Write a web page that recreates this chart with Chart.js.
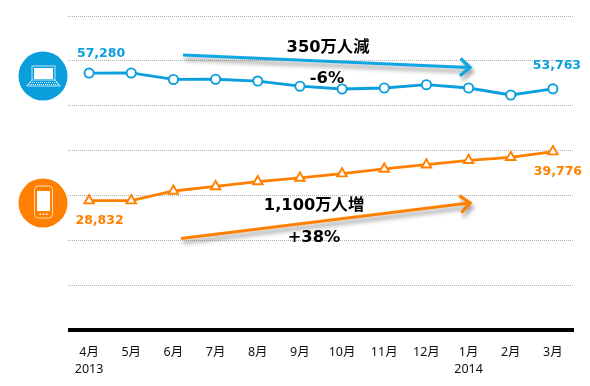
<!DOCTYPE html>
<html><head><meta charset="utf-8">
<style>html,body{margin:0;padding:0;background:#fff}#w{position:relative;width:590px;height:386px}</style>
<script src="https://cdn.jsdelivr.net/npm/chart.js@4"></script></head>
<body><div id="w"><canvas id="c" width="590" height="386"></canvas></div>
<script>
const months = ["4月","5月","6月","7月","8月","9月","10月","11月","12月","1月","2月","3月"];
const years = ["2013","","","","","","","","","2014","",""];
const pcValues = [57280,57300,55850,55900,55500,54350,53730,53950,54680,53950,52390,53763];
const phoneValues = [28832,28850,30990,32000,33100,33900,34850,35900,36850,37830,38500,39776];
const yTicks = [0,10000,20000,30000,40000,50000,60000,70000];
const BLUE = "#0a9fdc", ORANGE = "#ff8000";
const FONT = '"DejaVu Sans","Noto Sans CJK JP",sans-serif';
const TICKFONT = '"Noto Sans","Noto Sans CJK JP",sans-serif';

function arrow(ctx, x0, y0, x1, y1, color) {
  const a = Math.atan2(y1 - y0, x1 - x0), h = 13, s = 0.72;
  ctx.save();
  ctx.shadowColor = "rgba(60,60,60,0.5)"; ctx.shadowBlur = 4; ctx.shadowOffsetX = 2; ctx.shadowOffsetY = 4;
  ctx.strokeStyle = color; ctx.lineWidth = 3.2; ctx.lineJoin = "miter"; ctx.lineCap = "butt";
  ctx.beginPath(); ctx.moveTo(x0, y0); ctx.lineTo(x1 - 1, y1);
  ctx.moveTo(x1 - h * Math.cos(a - s), y1 - h * Math.sin(a - s));
  ctx.lineTo(x1, y1);
  ctx.lineTo(x1 - h * Math.cos(a + s), y1 - h * Math.sin(a + s));
  ctx.stroke();
  ctx.restore();
}
function laptop(ctx, cx, cy) {
  ctx.save();
  ctx.fillStyle = BLUE; ctx.beginPath(); ctx.arc(cx, cy, 24.5, 0, 7); ctx.fill();
  ctx.strokeStyle = "#bfe5f6"; ctx.lineWidth = 1;
  ctx.strokeRect(cx - 11, cy - 10, 23, 14);
  ctx.fillStyle = "#fff"; ctx.fillRect(cx - 9, cy - 8, 19, 11);
  ctx.beginPath(); ctx.moveTo(cx - 11, cy + 4); ctx.lineTo(cx - 16.5, cy + 10); ctx.lineTo(cx + 17.5, cy + 10); ctx.lineTo(cx + 12, cy + 4); ctx.stroke();
  ctx.strokeStyle = "#e4f4fb"; ctx.lineWidth = 1; ctx.setLineDash([1, 1]);
  ctx.beginPath(); ctx.moveTo(cx - 13, cy + 6.5); ctx.lineTo(cx + 14, cy + 6.5); ctx.moveTo(cx - 14, cy + 8.5); ctx.lineTo(cx + 15, cy + 8.5); ctx.stroke();
  ctx.restore();
}
function phone(ctx, cx, cy) {
  ctx.save();
  ctx.fillStyle = ORANGE; ctx.beginPath(); ctx.arc(cx, cy, 24.5, 0, 7); ctx.fill();
  ctx.strokeStyle = "#ffd9b0"; ctx.lineWidth = 1;
  ctx.beginPath(); ctx.roundRect(cx - 8.5, cy - 17, 18, 32, 3.5); ctx.stroke();
  ctx.fillStyle = "#fff"; ctx.fillRect(cx - 6, cy - 12, 13, 20);
  ctx.fillRect(cx - 3.5, cy + 10.5, 1.5, 1.5); ctx.fillRect(cx - 0.2, cy + 10.5, 1.5, 1.5); ctx.fillRect(cx + 3, cy + 10.5, 1.5, 1.5);
  ctx.restore();
}
function txt(ctx, s, x, y, font, color) {
  ctx.font = font; ctx.fillStyle = color; ctx.textAlign = "center"; ctx.textBaseline = "middle"; ctx.fillText(s, x, y);
}
const overlay = {
  id: "overlay",
  afterDatasetsDraw(chart) {
    const ctx = chart.ctx, X = chart.scales.x, Y = chart.scales.y;
    ctx.fillStyle = "#000";
    ctx.fillRect(X.left, Y.getPixelForValue(0) - 2, X.width, 4);
    laptop(ctx, 43, 76);
    phone(ctx, 43, 203);
    const lab = 'bold 12.5px ' + FONT, last = months.length - 1;
    txt(ctx, pcValues[0].toLocaleString("en-US"), X.getPixelForValue(0) + 12, Y.getPixelForValue(pcValues[0]) - 19.5, lab, BLUE);
    txt(ctx, pcValues[last].toLocaleString("en-US"), X.getPixelForValue(last) + 4, Y.getPixelForValue(pcValues[last]) - 23.5, lab, BLUE);
    txt(ctx, phoneValues[0].toLocaleString("en-US"), X.getPixelForValue(0) + 10.5, Y.getPixelForValue(phoneValues[0]) + 20.5, lab, ORANGE);
    txt(ctx, phoneValues[last].toLocaleString("en-US"), X.getPixelForValue(last) + 5, Y.getPixelForValue(phoneValues[last]) + 20.5, lab, ORANGE);
    arrow(ctx, 183, 55, 470, 67.5, "#0fa6e4");
    arrow(ctx, 181, 238.5, 470, 203, ORANGE);
    const big = 'bold 16.3px ' + FONT;
    txt(ctx, "350万人減", 328, 47.5, big, "#000");
    txt(ctx, "-6%", 327, 78.5, big, "#000");
    txt(ctx, "1,100万人増", 314, 205.5, big, "#000");
    txt(ctx, "+38%", 314, 238, big, "#000");
  }
};
Chart.defaults.font.family = FONT;
new Chart(document.getElementById("c"), {
  type: "line",
  data: {
    labels: months.map((m, i) => years[i] ? [m, years[i]] : [m]),
    datasets: [
      { label: "PC", data: pcValues, borderColor: BLUE, borderWidth: 2.8, tension: 0,
        pointStyle: "circle", pointRadius: 4.6, pointBorderWidth: 1.9, pointBackgroundColor: "#fff", pointBorderColor: BLUE },
      { label: "Smartphone", data: phoneValues, borderColor: ORANGE, borderWidth: 2.8, tension: 0,
        pointStyle: "triangle", pointRadius: 5.5, pointBorderWidth: 1.9, pointBackgroundColor: "#fff", pointBorderColor: ORANGE }
    ]
  },
  options: {
    responsive: false, animation: false,
    layout: { padding: { left: 68, right: 16, top: 16, bottom: 0 } },
    plugins: { legend: { display: false }, tooltip: { enabled: false } },
    scales: {
      x: {
        offset: true,
        afterFit(s) { s.height = 56; },
        grid: { display: false, drawTicks: false },
        border: { display: false },
        ticks: { color: "#111", padding: 14, maxRotation: 0, autoSkip: false, font: { family: TICKFONT, size: 12.5, lineHeight: 1.34 } }
      },
      y: {
        min: 0, max: 70000,
        afterBuildTicks(s) { s.ticks = yTicks.map(v => ({ value: v })); },
        afterFit(s) { s.width = 0; },
        grid: { color: c => c.tick.value === 0 ? "rgba(0,0,0,0)" : "#b0b0b0", lineWidth: 1, drawTicks: false },
        border: { display: false, dash: [1, 1] },
        ticks: { display: false }
      }
    }
  },
  plugins: [overlay]
});
</script></body></html>
